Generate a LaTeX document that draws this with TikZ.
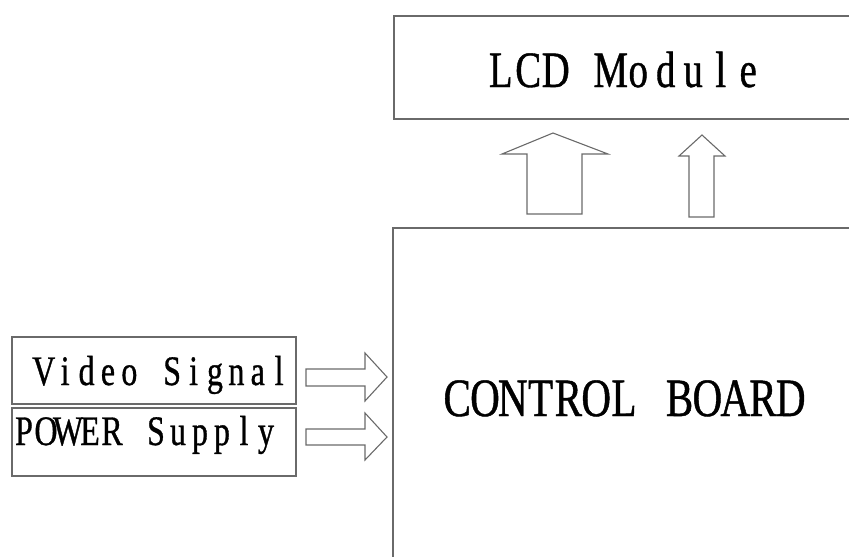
\documentclass[tikz,border=0pt]{standalone}
\usepackage{fontspec}
\setmainfont{Liberation Serif}
\newfontfamily\lblfont[FakeStretch=0.76,FakeBold=0.8]{Liberation Serif}
\makeatletter
\newcommand\monotext[2]{\@tfor\mt@c:=#2\do{\makebox[#1][c]{\mt@c}}}
\makeatother
\definecolor{edge}{HTML}{6A6A6A}
\tikzset{
  box/.style={draw=edge, line width=1.3pt},
  blockarrow/.style={draw=edge, line width=1.1pt, fill=white, line join=miter},
  lbl/.style={inner sep=0pt, anchor=base, text=black}
}
\begin{document}
\begin{tikzpicture}[x=1pt,y=-1pt]
\useasboundingbox (0,0) rectangle (849,557);
\clip (0,0) rectangle (849,557);
% boxes
\draw[box] (394,16) rectangle (860,119);
\draw[box] (393,228) rectangle (860,570);
\draw[box] (12,337) rectangle (296,404);
\draw[box] (12,408) rectangle (296,476);
% labels
\node[lbl] (lcd) at (624.5,87) {\lblfont\fontsize{51}{51}\selectfont\monotext{27.5pt}{LCD~Module}};
\node[lbl] (cb) at (624,416) {\lblfont\fontsize{54}{54}\selectfont\monotext{27.8pt}{CONTROL~BOARD}};
\node[lbl] (vs) at (161.5,385) {\lblfont\fontsize{42}{42}\selectfont\monotext{21.4pt}{Video~Signal}};
\node[lbl] (ps) at (145,445) {\lblfont\fontsize{42}{42}\selectfont\monotext{22pt}{POWER~Supply}};
% block arrows
\draw[blockarrow] (527,214) -- (527,154) -- (502,154) -- (553,133) -- (608,154) -- (582,154) -- (582,214) -- cycle;
\draw[blockarrow] (689,217) -- (689,156) -- (679,156) -- (702,135) -- (725,156) -- (714,156) -- (714,217) -- cycle;
\draw[blockarrow] (306,369) -- (365,369) -- (365,353) -- (387,377) -- (365,401) -- (365,386) -- (306,386) -- cycle;
\draw[blockarrow] (306,429) -- (365,429) -- (365,413) -- (387,437) -- (365,460) -- (365,445) -- (306,445) -- cycle;
\end{tikzpicture}
\end{document}
